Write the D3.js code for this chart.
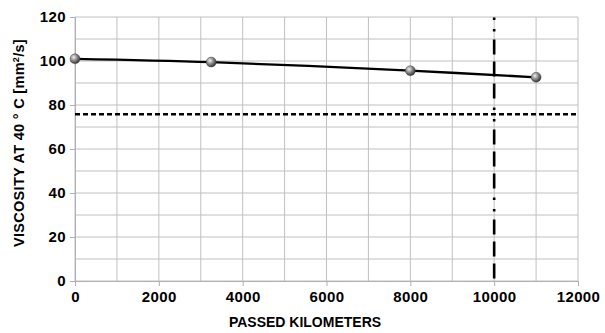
<!DOCTYPE html>
<html><head><meta charset="utf-8">
<script src="https://cdn.jsdelivr.net/npm/d3@7"></script>
<style>body{margin:0;background:#fff}svg{display:block}text{font-family:"Liberation Sans",Arial,sans-serif;font-weight:bold;fill:#000}</style>
</head><body>
<svg id="c" width="605" height="333"></svg>
<script>
const km = [0, 3250, 8000, 11000];
const viscosity = [101, 99.5, 95.6, 92.6];
const xTicks = [0, 2000, 4000, 6000, 8000, 10000, 12000];
const yTicks = [0, 20, 40, 60, 80, 100, 120];
const limitViscosity = 75.8;
const limitKm = 10000;

const svg = d3.select("#c");
const x = d3.scaleLinear().domain([0, 12000]).range([75, 578]);
const y = d3.scaleLinear().domain([0, 120]).range([281, 17]);

const defs = svg.append("defs");
const g = defs.append("radialGradient").attr("id","ball").attr("cx","38%").attr("cy","35%").attr("r","65%");
g.append("stop").attr("offset","0%").attr("stop-color","#f0f0f0");
g.append("stop").attr("offset","50%").attr("stop-color","#8c8c8c");
g.append("stop").attr("offset","100%").attr("stop-color","#353535");

// grid
const minorX = d3.range(0, 12001, 1000);
const minorY = d3.range(0, 121, 10);
svg.append("g").selectAll("line").data(minorX).join("line")
  .attr("x1", d=>x(d)).attr("x2", d=>x(d)).attr("y1", y(0)).attr("y2", y(120))
  .attr("stroke", "#c0c0c0").attr("stroke-width", 1);
svg.append("g").selectAll("line").data(minorY).join("line")
  .attr("x1", x(0)).attr("x2", x(12000)).attr("y1", d=>y(d)).attr("y2", d=>y(d))
  .attr("stroke", "#c0c0c0").attr("stroke-width", 1);

// axes
const xAxis = d3.axisBottom(x).tickValues(xTicks).tickSize(5).tickPadding(5).tickFormat(d3.format("d"));
const yAxis = d3.axisLeft(y).tickValues(yTicks).tickSize(5).tickPadding(4);
const gx = svg.append("g").attr("transform", `translate(0,${y(0)})`).call(xAxis);
const gy = svg.append("g").attr("transform", `translate(${x(0)},0)`).call(yAxis);
[gx, gy].forEach(a => {
  a.selectAll(".domain").attr("stroke", "#b0b0b0");
  a.selectAll(".tick line").attr("stroke", "#b0b0b0");
  a.selectAll("text").style("font-size", "15px").style("letter-spacing","0.4px")
   .style("font-family", "'Liberation Sans',Arial,sans-serif").style("font-weight","bold").attr("fill","#111");
});

// limit lines
svg.append("line").attr("x1", x(0)).attr("x2", x(12000)).attr("y1", y(limitViscosity)).attr("y2", y(limitViscosity))
  .attr("stroke", "#000").attr("stroke-width", 2.4).attr("stroke-dasharray", "5,3");
svg.append("line").attr("x1", x(limitKm)).attr("x2", x(limitKm)).attr("y1", y(120)).attr("y2", y(0))
  .attr("stroke", "#000").attr("stroke-width", 2.6).attr("stroke-dasharray", "2.5,9,2.5,8,15,7,15,7,15,9")
  .attr("stroke-dashoffset", -0.5);

// series
const pts = km.map((k,i)=>[k, viscosity[i]]);
svg.append("path").datum(pts)
  .attr("d", d3.line().x(d=>x(d[0])).y(d=>y(d[1])).curve(d3.curveCatmullRom))
  .attr("fill","none").attr("stroke","#000").attr("stroke-width",2.3);
svg.append("g").selectAll("circle").data(pts).join("circle")
  .attr("cx", d=>x(d[0])).attr("cy", d=>y(d[1])).attr("r", 5)
  .attr("fill","url(#ball)").attr("stroke","#444").attr("stroke-width",0.4);

// titles
svg.append("text").attr("x", 305).attr("y", 327).attr("text-anchor","middle")
  .style("font-size","14px").text("PASSED KILOMETERS");
const yt = svg.append("text").attr("transform", `translate(24,143) rotate(-90)`).attr("text-anchor","middle")
  .style("font-size","14.5px").style("letter-spacing","0.3px");
yt.append("tspan").text("VISCOSITY AT 40 ° C [mm");
yt.append("tspan").attr("dy",-5).style("font-size","9px").text("2");
yt.append("tspan").attr("dy",5).text("/s]");
</script>
</body></html>
